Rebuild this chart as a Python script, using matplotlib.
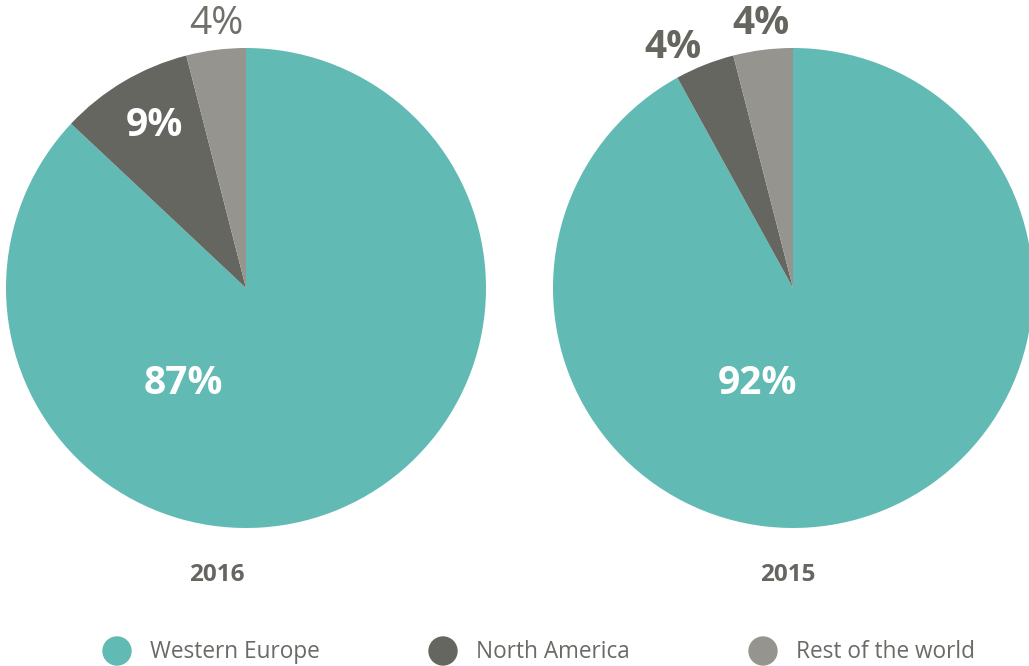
import matplotlib
matplotlib.use('Agg')
import matplotlib.pyplot as plt
from matplotlib.patches import Circle

plt.rcParams['font.family'] = ['Open Sans', 'DejaVu Sans']

regions = ['Western Europe', 'North America', 'Rest of the world']
colors = ['#62bab4', '#65665f', '#96948f']
years = ['2016', '2015']
shares = {'2016': [87, 9, 4], '2015': [92, 4, 4]}

# label placement per slice: (x, y, colour, weight)
label_pos = {
    '2016': [(-0.26, -0.40, 'white', 'bold'), (-0.38, 0.675, 'white', 'bold'), (-0.125, 1.10, '#6f706a', 'normal')],
    '2015': [(-0.15, -0.40, 'white', 'bold'), (-0.50, 1.00, '#65665f', 'bold'), (-0.135, 1.10, '#65665f', 'bold')],
}
year_x = [-0.12, -0.02]

W, H = 1029, 666
fig = plt.figure(figsize=(W / 100, H / 100), dpi=100)

centers = [246, 793]
r = 240
for year, cx, yx in zip(years, centers, year_x):
    ax = fig.add_axes([(cx - r) / W, (H - 288 - r) / H, 2 * r / W, 2 * r / H])
    ax.pie(shares[year], colors=colors, startangle=90, counterclock=False,
           wedgeprops=dict(linewidth=0))
    ax.set_xlim(-1, 1)
    ax.set_ylim(-1, 1)
    ax.set_aspect('equal')
    for v, (x, y, c, w) in zip(shares[year], label_pos[year]):
        ax.text(x, y, f'{v}%', ha='center', va='center', color=c, fontsize=28,
                fontweight=w, clip_on=False)
    ax.text(yx, 1 - (575 - 48) / r, year, ha='center', va='center', color='#65665f',
            fontsize=17.5, fontweight='bold', clip_on=False)

# legend
leg_x = [117, 443, 763]
for name, c, x in zip(regions, colors, leg_x):
    fig.patches.append(Circle((x, H - 651), 14, color=c, transform=None))
    fig.text((x + 33) / W, (H - 652) / H, name, ha='left', va='center',
             color='#6a6a66', fontsize=16.3)

fig.savefig('out.png', dpi=100)
